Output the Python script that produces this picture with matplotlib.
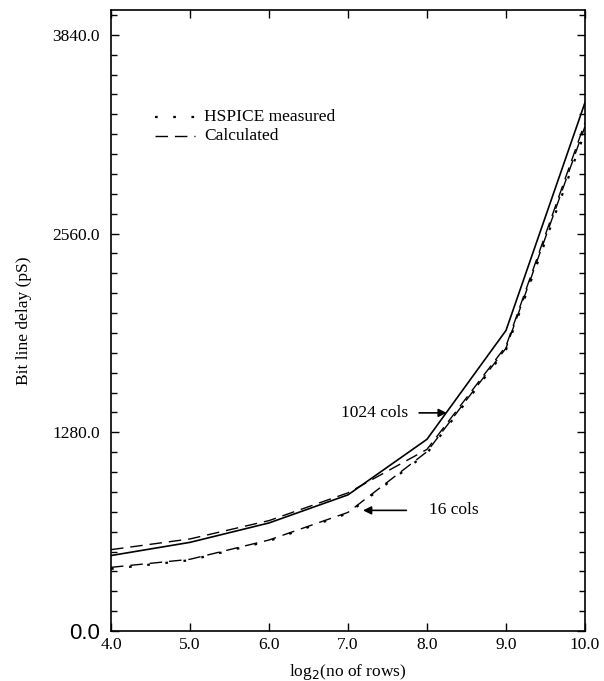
import matplotlib
matplotlib.use("Agg")
import matplotlib.pyplot as plt
from matplotlib.ticker import MultipleLocator, FixedLocator

# log2 of number of rows
log2_rows = [4.0, 5.0, 6.0, 7.0, 8.0, 9.0, 10.0]

# bit line delay (pS)
delay_1024_solid = [486, 571, 696, 877, 1235, 1936, 3404]
delay_1024_calc = [524, 593, 711, 890, 1170, 1835, 3275]
delay_16_meas = [400, 456, 580, 758, 1145, 1812, 3215]
delay_16_calc = [410, 462, 586, 764, 1155, 1822, 3250]

y_ticks = [0.0, 1280.0, 2560.0, 3840.0]
y_tick_labels = ["0.0", "1280.0", "2560.0", "3840.0"]
x_ticks = [4.0, 5.0, 6.0, 7.0, 8.0, 9.0, 10.0]
x_tick_labels = ["4.0", "5.0", "6.0", "7.0", "8.0", "9.0", "10.0"]

serif = "Liberation Serif"

fig = plt.figure(figsize=(6.04, 6.81), dpi=100)
ax = fig.add_axes([111 / 604, 50 / 681, 474 / 604, 621 / 681])

dash = (0, (9, 5))
dot = (0, (1.2, 7))

ax.plot(log2_rows, delay_1024_solid, color="black", lw=1.2, ls="-")
ax.plot(log2_rows, delay_1024_calc, color="black", lw=1.0, ls=dash)
ax.plot(log2_rows, delay_16_calc, color="black", lw=1.0, ls=dash)
ax.plot(log2_rows, delay_16_meas, color="black", lw=1.6, ls=dot)

ax.set_xlim(4.0, 10.0)
ax.set_ylim(0, 4000)

ax.xaxis.set_major_locator(FixedLocator(x_ticks))
ax.set_xticklabels(x_tick_labels, fontfamily=serif, fontsize=12.5)
ax.yaxis.set_major_locator(FixedLocator(y_ticks))
ax.yaxis.set_minor_locator(MultipleLocator(128))
ax.set_yticklabels(y_tick_labels, fontfamily=serif, fontsize=12.5)
ax.get_yticklabels()[0].set_fontfamily("Liberation Sans")
ax.get_yticklabels()[0].set_fontsize(16)

ax.tick_params(which="both", direction="in", top=True, right=True, width=1.0)
ax.tick_params(axis="y", which="major", length=6, pad=8)
ax.tick_params(axis="x", which="major", length=6, pad=4)
ax.tick_params(which="minor", length=4)
for s in ax.spines.values():
    s.set_linewidth(1.2)

ax.set_xlabel(r"log$_2$(no of rows)", fontfamily=serif, fontsize=12.5)
ax.set_ylabel("Bit line delay (pS)", fontfamily=serif, fontsize=12.5)
ax.xaxis.set_label_coords(0.5, -0.05)
ax.yaxis.set_label_coords(-0.167, 0.5)

# legend drawn as sample segments with labels
lx = [4.56, 5.06]
ax.plot(lx, [3312, 3312], color="black", lw=1.6, ls=dot)
ax.plot(lx, [3190, 3190], color="black", lw=1.0, ls=dash)
ax.text(5.18, 3312, "HSPICE measured", fontfamily=serif, fontsize=12.5, va="center")
ax.text(5.18, 3190, "Calculated", fontfamily=serif, fontsize=12.5, va="center")

ax.annotate("1024 cols", xy=(8.25, 1405), xytext=(6.91, 1405),
            fontfamily=serif, fontsize=12.5, va="center",
            arrowprops=dict(arrowstyle="-|>", color="black", lw=1.2,
                            mutation_scale=12, shrinkA=6, shrinkB=0))
ax.annotate("16 cols", xy=(7.19, 777), xytext=(8.02, 777),
            fontfamily=serif, fontsize=12.5, va="center",
            arrowprops=dict(arrowstyle="-|>", color="black", lw=1.2,
                            mutation_scale=12, shrinkA=14, shrinkB=0))

fig.savefig("out.png", dpi=100)
